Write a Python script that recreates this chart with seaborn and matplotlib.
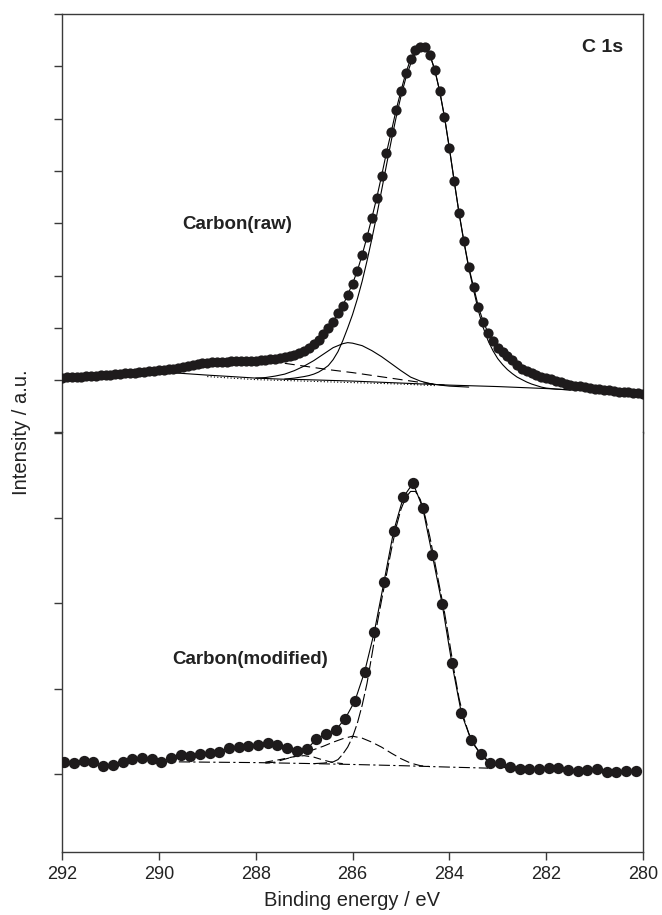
import matplotlib
matplotlib.use("Agg")
import matplotlib.pyplot as plt
import seaborn as sns
import pandas as pd

# ---------------- data (arbitrary intensity units) ----------------
top_energy = [292.0, 291.9, 291.8, 291.7, 291.6, 291.5, 291.4, 291.3, 291.2, 291.1,
              291.0, 290.9, 290.8, 290.7, 290.6, 290.5, 290.4, 290.3, 290.2, 290.1,
              290.0, 289.9, 289.8, 289.7, 289.6, 289.5, 289.4, 289.3, 289.2, 289.1,
              289.0, 288.9, 288.8, 288.7, 288.6, 288.5, 288.4, 288.3, 288.2, 288.1,
              288.0, 287.9, 287.8, 287.7, 287.6, 287.5, 287.4, 287.3, 287.2, 287.1,
              287.0, 286.9, 286.8, 286.7, 286.6, 286.5, 286.4, 286.3, 286.2, 286.1,
              286.0, 285.9, 285.8, 285.7, 285.6, 285.5, 285.4, 285.3, 285.2, 285.1,
              285.0, 284.9, 284.8, 284.7, 284.6, 284.5, 284.4, 284.3, 284.2, 284.1,
              284.0, 283.9, 283.8, 283.7, 283.6, 283.5, 283.4, 283.3, 283.2, 283.1,
              283.0, 282.9, 282.8, 282.7, 282.6, 282.5, 282.4, 282.3, 282.2, 282.1,
              282.0, 281.9, 281.8, 281.7, 281.6, 281.5, 281.4, 281.3, 281.2, 281.1,
              281.0, 280.9, 280.8, 280.7, 280.6, 280.5, 280.4, 280.3, 280.2, 280.1,
              280.0]
top_raw = [1050, 1053, 1059, 1065, 1069, 1076, 1082, 1088, 1095, 1101,
           1107, 1115, 1122, 1130, 1137, 1145, 1155, 1164, 1174, 1183,
           1193, 1202, 1212, 1221, 1240, 1260, 1279, 1298, 1317, 1326,
           1336, 1340, 1345, 1349, 1355, 1359, 1363, 1366, 1370, 1374,
           1376, 1380, 1387, 1397, 1408, 1422, 1437, 1456, 1483, 1517,
           1565, 1622, 1689, 1775, 1889, 2004, 2118, 2290, 2424, 2634,
           2843, 3092, 3397, 3740, 4103, 4485, 4905, 5344, 5744, 6164,
           6527, 6870, 7137, 7309, 7366, 7366, 7214, 6928, 6527, 6031,
           5439, 4809, 4198, 3664, 3168, 2786, 2405, 2118, 1908, 1756,
           1622, 1546, 1469, 1393, 1298, 1221, 1183, 1145, 1107, 1069,
           1050, 1021, 992, 964, 935, 916, 897, 884, 868, 855,
           840, 828, 817, 805, 794, 782, 775, 767, 760, 752,
           744]

# top fitted components
top_main_e = [287.4, 287.2, 287.0, 286.9, 286.8, 286.7, 286.6, 286.5, 286.4, 286.3,
              286.2, 286.1, 286.0, 285.9, 285.8, 285.7, 285.6, 285.5, 285.4, 285.3,
              285.2, 285.1, 285.0, 284.9, 284.8, 284.7, 284.6, 284.5, 284.4, 284.3,
              284.2, 284.1, 284.0, 283.9, 283.8, 283.7, 283.6, 283.5, 283.4, 283.3,
              283.2, 283.1, 283.0, 282.9, 282.8, 282.7, 282.6, 282.5, 282.4, 282.3,
              282.2, 282.1, 282.0, 281.8, 281.5]
top_main_v = [1021, 1040, 1069, 1088, 1116, 1155, 1212, 1279, 1393, 1546,
              1756, 1996, 2252, 2553, 2893, 3282, 3702, 4151, 4624, 5105,
              5573, 6021, 6426, 6771, 7046, 7241, 7336, 7347, 7214, 6928,
              6527, 6031, 5439, 4809, 4198, 3645, 3149, 2729, 2328, 2004,
              1756, 1565, 1412, 1298, 1202, 1126, 1059, 1011, 964, 926,
              897, 868, 849, 830, 811]
top_second_e = [288.0, 287.8, 287.6, 287.4, 287.2, 287.0, 286.8, 286.6, 286.4, 286.2,
                286.1, 286.0, 285.8, 285.6, 285.4, 285.2, 285.0, 284.8, 284.6, 284.4,
                284.2, 284.0, 283.6]
top_second_v = [1040, 1050, 1078, 1116, 1183, 1269, 1374, 1498, 1622, 1698,
                1718, 1708, 1660, 1565, 1450, 1317, 1183, 1059, 983, 935,
                907, 887, 868]
top_dash_e = [289.0, 288.5, 288.0, 287.5, 287.0, 286.5, 286.0, 285.5, 285.0, 284.5, 284.1]
top_dash_v = [1260, 1307, 1336, 1336, 1269, 1202, 1145, 1078, 1011, 945, 906]
top_bg_e = [292.0, 291.0, 290.0, 289.6, 289.3, 289.0, 288.5, 288.0, 287.5, 287.0,
            286.0, 285.0, 284.0, 283.0, 282.0, 281.0, 280.0]
top_bg_v = [1050, 1088, 1116, 1135, 1116, 1097, 1069, 1040, 1021, 1011,
            983, 945, 906, 878, 840, 792, 744]
top_dot_e = [289.0, 288.0, 287.0, 286.0, 285.0, 284.3]
top_dot_v = [1069, 1011, 983, 954, 926, 897]

bot_energy = [291.95, 291.75, 291.55, 291.35, 291.15, 290.95, 290.75, 290.55, 290.35, 290.15,
              289.95, 289.75, 289.55, 289.35, 289.15, 288.95, 288.75, 288.55, 288.35, 288.15,
              287.95, 287.75, 287.55, 287.35, 287.15, 286.95, 286.75, 286.55, 286.35, 286.15,
              285.95, 285.75, 285.55, 285.35, 285.15, 284.95, 284.75, 284.55, 284.35, 284.15,
              283.95, 283.75, 283.55, 283.35, 283.15, 282.95, 282.75, 282.55, 282.35, 282.15,
              281.95, 281.75, 281.55, 281.35, 281.15, 280.95, 280.75, 280.55, 280.35, 280.15]
bot_raw = [137, 125, 152, 144, 94, 105, 144, 172, 184, 172,
           144, 184, 219, 211, 234, 242, 261, 301, 319, 327,
           339, 359, 339, 301, 273, 289, 406, 464, 515, 651,
           857, 1197, 1664, 2249, 2846, 3243, 3407, 3119, 2561, 1996,
           1306, 710, 398, 234, 132, 125, 85, 55, 55, 55,
           67, 67, 47, 39, 47, 55, 27, 27, 39, 39]

bot_main_e = [286.8, 286.6, 286.4, 286.3, 286.2, 286.1, 286.0, 285.9, 285.8, 285.7,
              285.6, 285.5, 285.4, 285.3, 285.2, 285.1, 285.0, 284.9, 284.8, 284.7,
              284.6, 284.5, 284.4, 284.3, 284.2, 284.1, 284.0, 283.9, 283.8, 283.7,
              283.6, 283.5, 283.4, 283.3, 283.2, 283.1, 283.0, 282.8]
bot_main_v = [123, 129, 143, 170, 234, 316, 433, 596, 807, 1064,
              1392, 1731, 2035, 2328, 2620, 2889, 3099, 3240, 3310, 3310,
              3216, 3018, 2772, 2480, 2187, 1895, 1556, 1205, 889, 655,
              480, 351, 269, 199, 152, 117, 94, 70]
bot_second_e = [287.8, 287.6, 287.4, 287.2, 287.0, 286.8, 286.6, 286.4, 286.2, 286.0,
                285.8, 285.6, 285.4, 285.2, 285.0, 284.8, 284.6, 284.4]
bot_second_v = [129, 140, 175, 205, 246, 287, 327, 374, 415, 444,
                421, 374, 316, 246, 181, 129, 99, 88]
bot_small_e = [287.8, 287.5, 287.2, 287.0, 286.8, 286.6, 286.4, 286.2]
bot_small_v = [140, 170, 205, 216, 199, 164, 135, 123]
bot_base_e = [290.0, 289.0, 288.0, 287.0, 286.0, 285.0, 284.0, 283.2]
bot_base_v = [146, 140, 135, 125, 113, 99, 82, 70]

x_ticks = [292, 290, 288, 286, 284, 282, 280]

# ---------------- style ----------------
sns.set_theme(style="ticks")
plt.rcParams["font.family"] = ["Liberation Sans", "DejaVu Sans"]
plt.rcParams["axes.edgecolor"] = "#3a3a3a"
plt.rcParams["axes.linewidth"] = 1.0

W, H = 662, 915
fig = plt.figure(figsize=(W / 100, H / 100), dpi=100)
left = 62 / W
width = (643 - 62) / W
ax_top = fig.add_axes([left, 1 - 432.5 / H, width, (432.5 - 14) / H])
ax_bot = fig.add_axes([left, 1 - 852 / H, width, (852 - 432.5) / H])

dot_color = "#1e1b1c"
lw = 0.8


def line(ax, e, v, ls="-"):
    sns.lineplot(x=e, y=v, ax=ax, color="black", linewidth=lw, linestyle=ls,
                 sort=False, estimator=None)


# top panel
df_top = pd.DataFrame({"energy": top_energy, "intensity": top_raw})
line(ax_top, top_bg_e, top_bg_v, "-")
line(ax_top, top_dot_e, top_dot_v, (0, (1, 2)))
line(ax_top, top_dash_e, top_dash_v, (0, (9, 5)))
line(ax_top, top_second_e, top_second_v, "-")
line(ax_top, top_main_e, top_main_v, "-")
sns.scatterplot(data=df_top, x="energy", y="intensity", ax=ax_top, s=54,
                color=dot_color, edgecolor=dot_color, linewidth=0, zorder=3)
line(ax_top, top_energy, top_raw, "-")

# bottom panel
df_bot = pd.DataFrame({"energy": bot_energy, "intensity": bot_raw})
line(ax_bot, bot_base_e, bot_base_v, (0, (10, 3, 2, 3)))
line(ax_bot, bot_small_e, bot_small_v, (0, (7, 4)))
line(ax_bot, bot_second_e, bot_second_v, (0, (9, 4)))
line(ax_bot, bot_main_e, bot_main_v, (0, (12, 3)))
sns.scatterplot(data=df_bot, x="energy", y="intensity", ax=ax_bot, s=66,
                color=dot_color, edgecolor=dot_color, linewidth=0, zorder=3)
line(ax_bot, bot_energy, bot_raw, "-")

for ax in (ax_top, ax_bot):
    ax.set_xlim(292, 280)
    ax.set_xlabel("")
    ax.set_ylabel("")
    ax.tick_params(axis="y", direction="out", length=6, width=1.0,
                   labelleft=False, colors="#3a3a3a")

ax_top.set_ylim(0, 8000)
ax_top.set_yticks([0, 1000, 2000, 3000, 4000, 5000, 6000, 7000, 8000])
ax_top.spines["bottom"].set_visible(False)
ax_top.spines["top"].set_visible(True)
ax_top.spines["right"].set_visible(True)
ax_top.tick_params(axis="x", bottom=False, labelbottom=False)

ax_bot.set_ylim(-912, 4000)
ax_bot.set_yticks([0, 1000, 2000, 3000, 4000])
ax_bot.spines["top"].set_visible(False)
ax_bot.spines["right"].set_visible(True)
ax_bot.set_xticks(x_ticks)
ax_bot.set_xticklabels([str(t) for t in x_ticks])
ax_bot.tick_params(axis="x", direction="out", length=6, width=1.0,
                   labelsize=13, pad=4, colors="#3a3a3a", labelcolor="#222222")

# texts
ax_top.text(0.302, 0.498, "Carbon(raw)", transform=ax_top.transAxes,
            ha="center", va="center", fontsize=13.5, fontweight="bold", color="#222222")
ax_top.text(0.93, 0.92, "C 1s", transform=ax_top.transAxes,
            ha="center", va="center", fontsize=14, fontweight="bold", color="#222222")
ax_bot.text(0.323, 0.458, "Carbon(modified)", transform=ax_bot.transAxes,
            ha="center", va="center", fontsize=13.5, fontweight="bold", color="#222222")
fig.text(352 / W, 1 - 900 / H, "Binding energy / eV", ha="center", va="center",
         fontsize=14.5, color="#222222")
fig.text(22 / W, 1 - 432 / H, "Intensity / a.u.", ha="center", va="center",
         rotation=90, fontsize=14.5, color="#222222")

fig.savefig("out.png", dpi=100)
